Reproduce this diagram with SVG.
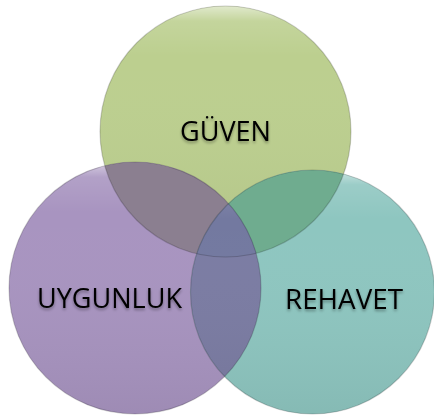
<svg xmlns="http://www.w3.org/2000/svg" width="434" height="417" viewBox="0 0 434 417">
  <style>
    .lbl { font-family: "Open Sans", "Liberation Sans", sans-serif; font-size: 27px; fill: #000; text-anchor: middle; }
    .edge { fill: none; stroke: #000; stroke-opacity: 0.18; stroke-width: 1.2; }
    .hl { fill: url(#shine); }
  </style>
  <defs>
    <clipPath id="cG"><circle cx="225.5" cy="131.5" r="125.5"/></clipPath>
    <clipPath id="cP"><circle cx="135" cy="288" r="126"/></clipPath>
    <clipPath id="cT"><circle cx="312.5" cy="292" r="122"/></clipPath>
    <linearGradient id="shine" x1="0" y1="0" x2="0" y2="1">
      <stop offset="0" stop-color="#fff" stop-opacity="0.55"/>
      <stop offset="0.06" stop-color="#fff" stop-opacity="0.12"/>
      <stop offset="0.2" stop-color="#fff" stop-opacity="0"/>
      <stop offset="1" stop-color="#000" stop-opacity="0.06"/>
    </linearGradient>
    <filter id="ts" x="-10%" y="-30%" width="120%" height="170%">
      <feGaussianBlur in="SourceAlpha" stdDeviation="1.5"/>
      <feOffset dx="0" dy="2" result="b"/>
      <feComponentTransfer><feFuncA type="linear" slope="0.35"/></feComponentTransfer>
      <feMerge><feMergeNode/><feMergeNode in="SourceGraphic"/></feMerge>
    </filter>
  </defs>
  <rect width="434" height="417" fill="#fff"/>
  <g id="guven">
    <circle cx="225.5" cy="131.5" r="125.5" fill="#bccf8f"/>
    <circle class="hl" cx="225.5" cy="131.5" r="125.5"/>
  </g>
  <g id="uygunluk">
    <circle cx="135" cy="288" r="126" fill="#a894c0"/>
    <circle class="hl" cx="135" cy="288" r="126"/>
  </g>
  <g id="rehavet">
    <circle cx="312.5" cy="292" r="122" fill="#8ec6c0"/>
    <circle class="hl" cx="312.5" cy="292" r="122"/>
  </g>
  <g id="overlaps">
    <g clip-path="url(#cG)"><circle cx="135" cy="288" r="126" fill="#8b7f90"/></g>
    <g clip-path="url(#cG)"><circle cx="312.5" cy="292" r="122" fill="#6fac8f"/></g>
    <g clip-path="url(#cP)"><circle cx="312.5" cy="292" r="122" fill="#7b7ca3"/></g>
    <g clip-path="url(#cP)"><g clip-path="url(#cG)"><circle cx="312.5" cy="292" r="122" fill="#7379a0"/></g></g>
    <g clip-path="url(#cP)"><circle class="hl" cx="312.5" cy="292" r="122"/></g>
  </g>
  <g id="edges">
    <circle class="edge" cx="225.5" cy="131.5" r="125.5"/>
    <circle class="edge" cx="135" cy="288" r="126"/>
    <circle class="edge" cx="312.5" cy="292" r="122"/>
  </g>
  <g id="labels" filter="url(#ts)">
    <text class="lbl" x="225.5" y="141" textLength="91" lengthAdjust="spacingAndGlyphs">GÜVEN</text>
    <text class="lbl" x="109.5" y="308" textLength="145" lengthAdjust="spacingAndGlyphs">UYGUNLUK</text>
    <text class="lbl" x="344" y="309" textLength="118" lengthAdjust="spacingAndGlyphs">REHAVET</text>
  </g>
</svg>
